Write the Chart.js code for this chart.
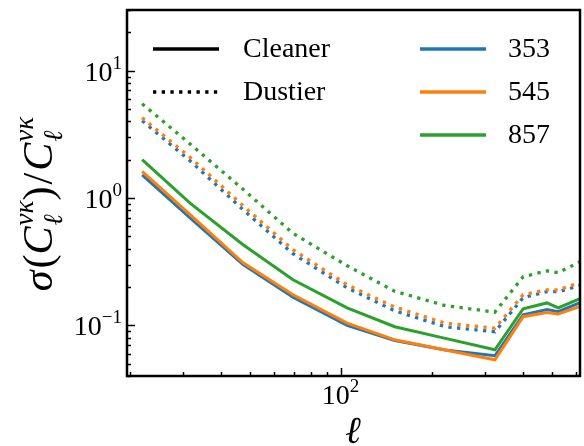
<!DOCTYPE html>
<html>
<head>
<meta charset="utf-8">
<script src="https://cdn.jsdelivr.net/npm/chart.js@4/dist/chart.umd.min.js"></script>
<style>
  html, body { margin: 0; padding: 0; background: #fff; }
  canvas { display: block; }
</style>
</head>
<body>
<canvas id="chart" width="584" height="446"></canvas>
<script>
// multipole bins
const ells = [22, 31.7, 47.5, 69.5, 105, 151, 222, 324, 402, 482, 525, 620];

// Cleaner (solid)
const clean353 = [1.52, 0.70, 0.30, 0.166, 0.100, 0.076, 0.064, 0.0577, 0.121, 0.133, 0.128, 0.151];
const clean545 = [1.62, 0.74, 0.31, 0.174, 0.104, 0.077, 0.064, 0.0537, 0.117, 0.126, 0.123, 0.141];
const clean857 = [2.00, 0.913, 0.430, 0.228, 0.137, 0.0975, 0.079, 0.0643, 0.135, 0.150, 0.137, 0.162];

// Dustier (dotted)
const dust353 = [4.05, 1.96, 0.81, 0.365, 0.197, 0.130, 0.0975, 0.089, 0.165, 0.184, 0.184, 0.205];
const dust545 = [4.27, 2.09, 0.87, 0.393, 0.208, 0.139, 0.104, 0.0949, 0.174, 0.19, 0.19, 0.216];
const dust857 = [5.5, 2.66, 1.17, 0.528, 0.294, 0.185, 0.143, 0.127, 0.241, 0.268, 0.259, 0.316];

const yTicks = [0.1, 1, 10];
const yTickExp = ['\u22121', '0', '1'];
const xTicks = [100];
const xTickExp = ['2'];

const freqs = ['353', '545', '857'];
const colors = ['#1f77b4', '#ff7f0e', '#2ca02c'];

const serif = '"Liberation Serif", "DejaVu Serif", serif';

function pts(vals) {
  return ells.map(function (l, i) { return { x: l, y: vals[i] }; });
}

function line(vals, color, dotted) {
  return {
    data: pts(vals),
    borderColor: color,
    borderWidth: dotted ? 3.3 : 3,
    borderDash: dotted ? [3.3, 5.4] : [],
    pointRadius: 0,
    tension: 0,
    fill: false,
  };
}

// first dataset ends up on top
const datasets = [
  line(clean857, colors[2], false),
  line(clean545, colors[1], false),
  line(clean353, colors[0], false),
  line(dust857, colors[2], true),
  line(dust545, colors[1], true),
  line(dust353, colors[0], true),
];

// draw a run of text pieces: {t, size, italic, dy, stack}
function drawPieces(ctx, pieces, x, y) {
  let cx = x;
  let held = 0;
  pieces.forEach(function (p) {
    ctx.font = (p.italic ? 'italic ' : '') + p.size + 'px ' + serif;
    ctx.fillText(p.t, cx, y + (p.dy || 0));
    const w = ctx.measureText(p.t).width;
    if (p.stack) {
      held = Math.max(held, w);
    } else {
      cx += Math.max(w, held) + (p.gap || 0);
      held = 0;
    }
  });
  return cx - x;
}

function measurePieces(ctx, pieces) {
  let w = 0, held = 0;
  pieces.forEach(function (p) {
    ctx.font = (p.italic ? 'italic ' : '') + p.size + 'px ' + serif;
    const m = ctx.measureText(p.t).width;
    if (p.stack) held = Math.max(held, m);
    else { w += Math.max(m, held) + (p.gap || 0); held = 0; }
  });
  return w;
}

const framePlugin = {
  id: 'frame',
  afterDraw: function (chart) {
    const ctx = chart.ctx;
    const a = chart.chartArea;
    const xs = chart.scales.x;
    const ys = chart.scales.y;
    ctx.save();
    ctx.fillStyle = '#000';
    ctx.strokeStyle = '#000';

    // y ticks, inward
    ctx.lineWidth = 1.5;
    for (let e = -2; e <= 1; e++) {
      for (let m = 1; m <= 9; m++) {
        const v = m * Math.pow(10, e);
        if (v < ys.min || v > ys.max) continue;
        const py = Math.round(ys.getPixelForValue(v)) + 0.5;
        const len = m === 1 ? 8 : 4;
        ctx.beginPath();
        ctx.moveTo(a.left, py);
        ctx.lineTo(a.left + len, py);
        ctx.stroke();
      }
    }
    // x ticks, inward
    for (let e = 1; e <= 2; e++) {
      for (let m = 1; m <= 9; m++) {
        const v = m * Math.pow(10, e);
        if (v < xs.min || v > xs.max) continue;
        const px = Math.round(xs.getPixelForValue(v)) + 0.5;
        const len = m === 1 ? 8 : 4;
        ctx.beginPath();
        ctx.moveTo(px, a.bottom);
        ctx.lineTo(px, a.bottom - len);
        ctx.stroke();
      }
    }

    // frame
    ctx.lineWidth = 2.5;
    ctx.strokeRect(a.left, a.top, a.right - a.left, a.bottom - a.top);

    // tick labels
    ctx.textBaseline = 'alphabetic';
    ctx.textAlign = 'left';
    yTicks.forEach(function (v, i) {
      const py = ys.getPixelForValue(v);
      const pieces = [
        { t: '10', size: 28 },
        { t: yTickExp[i], size: 19, dy: -12 },
      ];
      const w = measurePieces(ctx, pieces);
      drawPieces(ctx, pieces, a.left - 5 - w, py + 10);
    });
    xTicks.forEach(function (v, i) {
      const px = xs.getPixelForValue(v);
      const pieces = [
        { t: '10', size: 28 },
        { t: xTickExp[i], size: 19, dy: -12 },
      ];
      drawPieces(ctx, pieces, px - 19, a.bottom + 28);
    });

    // x title
    ctx.font = 'italic 38px ' + serif;
    ctx.textAlign = 'center';
    ctx.fillText('\u2113', 353, 443);

    // y title, rotated
    ctx.textAlign = 'left';
    const title = [
      { t: '\u03c3', size: 42, italic: true, gap: 2 },
      { t: '(', size: 42 },
      { t: 'C', size: 42, italic: true, gap: 1 },
      { t: '\u03bd\u03ba', size: 27, italic: true, dy: -19, stack: true },
      { t: '\u2113', size: 27, italic: true, dy: 10 },
      { t: ')', size: 42, gap: 2 },
      { t: '/', size: 42, gap: 2 },
      { t: 'C', size: 42, italic: true, gap: 1 },
      { t: '\u03bd\u03ba', size: 27, italic: true, dy: -19, stack: true },
      { t: '\u2113', size: 27, italic: true, dy: 10 },
    ];
    const tw = measurePieces(ctx, title);
    ctx.translate(52, 204);
    ctx.rotate(-Math.PI / 2);
    drawPieces(ctx, title, -tw / 2, 0);
    ctx.setTransform(1, 0, 0, 1, 0, 0);

    // legend
    ctx.lineWidth = 3.3;
    ctx.strokeStyle = '#000';
    ctx.beginPath();
    ctx.moveTo(153, 49);
    ctx.lineTo(219, 49);
    ctx.stroke();
    ctx.setLineDash([3.3, 5.4]);
    ctx.beginPath();
    ctx.moveTo(153, 92);
    ctx.lineTo(219, 92);
    ctx.stroke();
    ctx.setLineDash([]);
    freqs.forEach(function (f, i) {
      const ly = 49 + i * 43;
      ctx.strokeStyle = colors[i];
      ctx.beginPath();
      ctx.moveTo(420, ly);
      ctx.lineTo(486, ly);
      ctx.stroke();
    });
    ctx.font = '28px ' + serif;
    ctx.fillStyle = '#000';
    ctx.textBaseline = 'middle';
    ctx.fillText('Cleaner', 243, 50);
    ctx.fillText('Dustier', 243, 93);
    freqs.forEach(function (f, i) {
      ctx.fillText(f, 508, 50 + i * 43);
    });
    ctx.restore();
  },
};

new Chart(document.getElementById('chart'), {
  type: 'line',
  data: { datasets: datasets },
  options: {
    responsive: false,
    animation: false,
    events: [],
    layout: { padding: { left: 127, right: 4, top: 10, bottom: 70 } },
    plugins: { legend: { display: false }, tooltip: { enabled: false } },
    scales: {
      x: { type: 'logarithmic', min: 19.6, max: 620, display: false },
      y: { type: 'logarithmic', min: 0.04, max: 30, display: false },
    },
  },
  plugins: [framePlugin],
});
</script>
</body>
</html>
